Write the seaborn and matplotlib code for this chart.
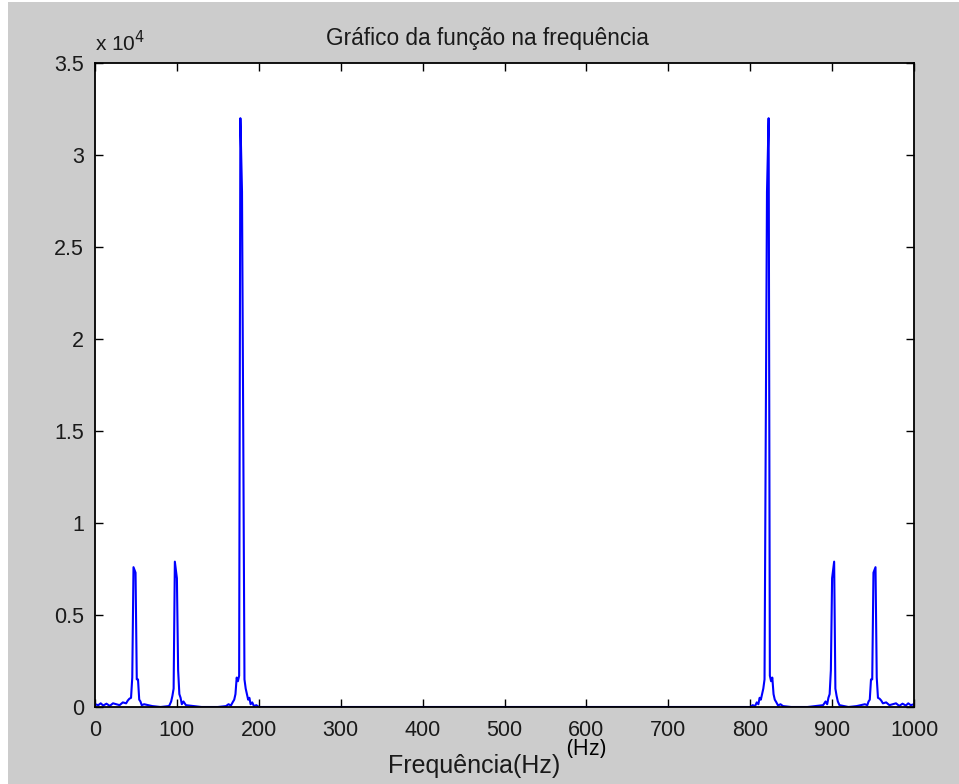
import matplotlib
matplotlib.use("Agg")
import matplotlib.pyplot as plt
import seaborn as sns
import pandas as pd
from matplotlib.patches import Rectangle

# ---------------- data ----------------
freq_a = [0, 4, 7, 10, 14, 18, 22, 26, 30, 34, 38, 40, 42, 44, 45.5, 47,
          49.5, 51, 52.5, 54, 55.5, 57, 60, 70, 80, 90]
amp_a = [150, 100, 200, 80, 180, 60, 200, 150, 100, 250, 200, 350, 450, 500, 1600, 7600,
         7300, 1500, 1500, 400, 300, 100, 150, 50, 0, 50]

freq_b = [91, 93, 94.5, 96, 97.5, 100, 101.5, 103, 104.5, 106, 108, 111, 130, 150]
amp_b = [100, 300, 600, 1000, 7900, 7000, 2000, 700, 500, 150, 300, 100, 0, 0]

freq_c = [160, 163, 166, 168, 170, 171.5, 173, 174.5, 176, 177.5, 179.5,
          181, 182.5, 184, 185.5, 187, 188.5, 190, 192, 194, 197, 200]
amp_c = [50, 150, 80, 250, 400, 700, 1600, 1400, 1700, 32000, 28000,
         15000, 1500, 1000, 700, 400, 500, 150, 250, 50, 100, 0]

freq_d = [300, 500, 700, 780, 800, 803, 806, 808, 810, 811.5, 813, 814.5, 816,
          817.5, 819, 820.5, 822.5, 824, 825.5, 827, 828.5, 830, 832, 834, 837, 840]
amp_d = [0, 0, 0, 0, 0, 100, 50, 250, 150, 500, 400, 700, 1000,
         1500, 15000, 28000, 32000, 1700, 1400, 1600, 700, 400, 250, 80, 150, 50]

freq_e = [850, 870, 889, 892, 894, 895.5, 897, 898.5, 900, 902.5, 904, 905.5, 907, 909]
amp_e = [0, 0, 100, 300, 150, 500, 700, 2000, 7000, 7900, 1000, 600, 300, 100]

freq_f = [920, 930, 940, 943, 944.5, 946, 947.5, 949, 950.5, 953, 954.5, 956,
          958, 960, 962, 966, 970, 974, 978, 982, 986, 990, 993, 996, 1000]
amp_f = [0, 50, 150, 100, 300, 400, 1500, 1500, 7300, 7600, 1600, 500,
         450, 350, 200, 250, 100, 150, 200, 60, 180, 80, 200, 100, 150]

ytick_vals = [0, 5000, 10000, 15000, 20000, 25000, 30000, 35000]
ytick_labels = ["0", "0.5", "1", "1.5", "2", "2.5", "3", "3.5"]
xtick_vals = [0, 100, 200, 300, 400, 500, 600, 700, 800, 900, 1000]

title_text = "Gráfico da função na frequência"
xlabel_text = "Frequência(Hz)"

freq = freq_a + freq_b + freq_c + freq_d + freq_e + freq_f
amp = amp_a + amp_b + amp_c + amp_d + amp_e + amp_f
df = pd.DataFrame({"f": freq, "a": amp})

# ---------------- figure ----------------
sns.set_style("white")
plt.rcParams["font.family"] = ["Liberation Sans", "DejaVu Sans"]

W, H = 959, 784
fig = plt.figure(figsize=(W / 100, H / 100), dpi=100)
fig.patch.set_facecolor("white")
fig.patches.append(Rectangle((8 / W, 0), 1 - 8 / W, 1 - 2 / H, transform=fig.transFigure,
                             facecolor="#cccccc", edgecolor="none", zorder=-10))

left, right, top, bottom = 95, 914, 63, 707
ax = fig.add_axes([left / W, 1 - bottom / H, (right - left) / W, (bottom - top) / H])
ax.set_facecolor("white")

sns.lineplot(data=df, x="f", y="a", ax=ax, color="#0000ff", linewidth=1.5,
             estimator=None, sort=False)

ax.set_xlim(0, 1000)
ax.set_ylim(0, 35000)
ax.set_xticks(xtick_vals)
ax.set_xticklabels([str(v) for v in xtick_vals])
ax.set_yticks(ytick_vals)
ax.set_yticklabels(ytick_labels)

for s in ax.spines.values():
    s.set_visible(True)
    s.set_color("black")
    s.set_linewidth(1.3)

ax.tick_params(axis="both", which="both", direction="in", length=6, width=1,
               top=True, right=True, bottom=True, left=True,
               labelsize=15.5, colors="black", pad=8)
ax.tick_params(axis="x", pad=9)
for lab in ax.get_xticklabels() + ax.get_yticklabels():
    lab.set_color("#1a1a1a")

ax.set_xlabel(xlabel_text, fontsize=18, color="#1a1a1a")
ax.xaxis.set_label_coords((474 - left) / (right - left), -(754 - bottom) / (bottom - top))
ax.set_ylabel("")
ax.set_title(title_text, fontsize=16.3, pad=13, color="#1a1a1a",
             x=(487 - left) / (right - left))

ax.text(0.0, 1.012, r"x 10$^{4}$", transform=ax.transAxes, fontsize=15,
        ha="left", va="bottom", color="#1a1a1a")

fig.text(566 / W, 1 - 749 / H, "(Hz)", fontsize=16, family=["Open Sans", "DejaVu Sans"],
         ha="left", va="center", color="black")

fig.savefig("out.png", dpi=100, facecolor=fig.get_facecolor())
